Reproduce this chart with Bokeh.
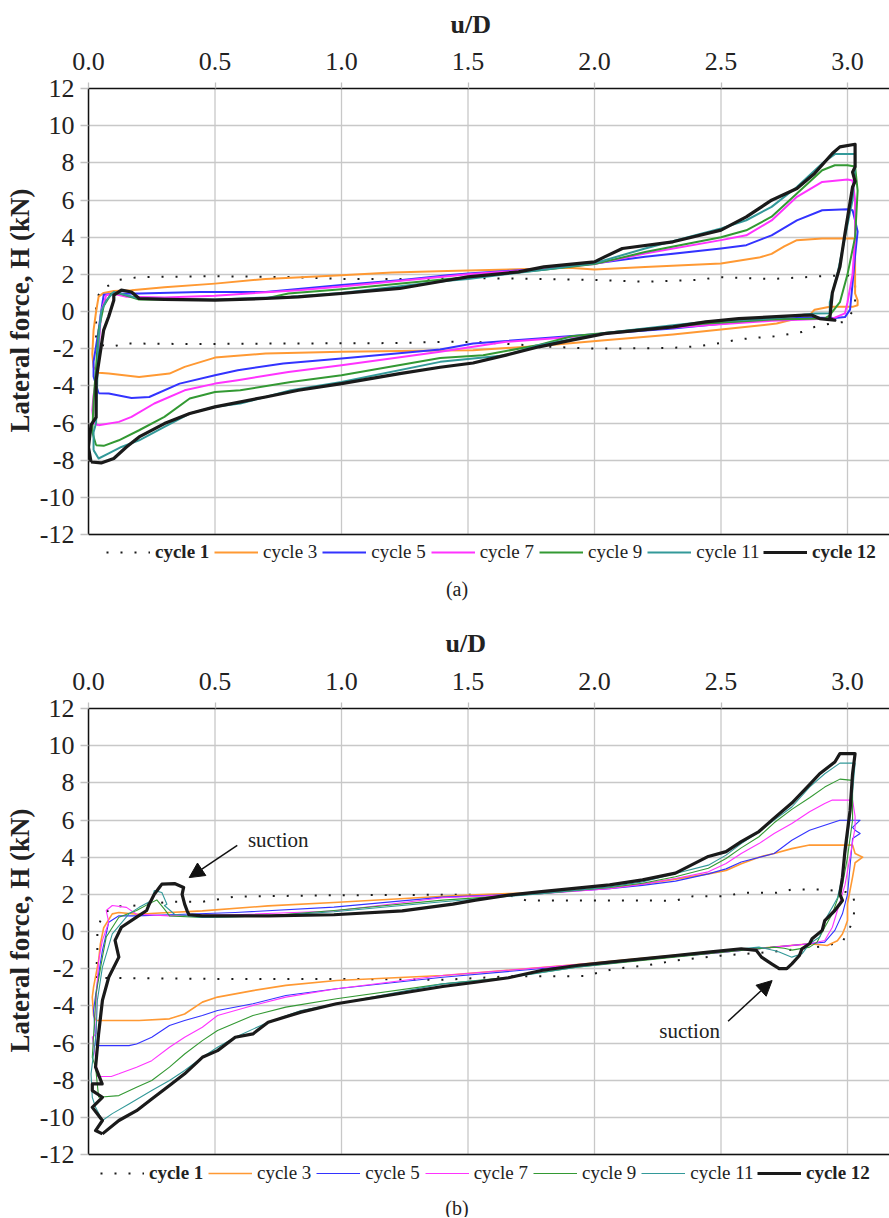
from bokeh.plotting import figure
from bokeh.models import (FixedTicker, Legend, LegendItem, Label, Span,
                          Arrow, NormalHead, Title)
from bokeh.layouts import column
from bokeh.embed import file_html
from bokeh.resources import INLINE

# ---------------- shared axis data ----------------
X_TICKS = [0.0, 0.5, 1.0, 1.5, 2.0, 2.5, 3.0]
X_TICK_LABELS = ["0.0", "0.5", "1.0", "1.5", "2.0", "2.5", "3.0"]
Y_TICKS = [-12, -10, -8, -6, -4, -2, 0, 2, 4, 6, 8, 10, 12]
Y_TICK_LABELS = ["-12", "-10", "-8", "-6", "-4", "-2", "0", "2", "4", "6", "8", "10", "12"]
CYCLES = ["cycle 1", "cycle 3", "cycle 5", "cycle 7", "cycle 9", "cycle 11", "cycle 12"]
COLORS = ["#1a1a1a", "#FF9933", "#3333FF", "#FF33FF", "#339933", "#339999", "#1a1a1a"]
X_TITLE = "u/D"
Y_TITLE = "Lateral force, H (kN)"
CAPTIONS = ["(a)", "(b)"]

# ---------------- panel (a) ----------------
A1_U = [0.03, 0.03, 0.04, 0.05, 0.08, 0.12, 0.2, 0.5, 0.8, 1.0, 1.3, 1.5, 1.8, 2.0, 2.2, 2.4, 2.5, 2.7, 2.9, 3.0,
        3.03, 3.03, 2.99, 2.94, 2.87, 2.82, 2.72, 2.65, 2.57, 2.5, 2.41, 2.3, 2.0, 1.83, 1.55, 1.42, 1.2, 0.8, 0.4,
        0.15, 0.09, 0.05, 0.03]
A1_H = [-1.4, 0.25, 0.9, 1.2, 1.4, 1.7, 1.85, 1.9, 1.85, 1.75, 1.75, 1.8, 1.75, 1.7, 1.6, 1.7, 1.85, 1.75, 1.9, 1.95,
        1.6, 0.2, -0.56, -0.63, -0.83, -1.1, -1.33, -1.4, -1.5, -1.69, -1.87, -1.96, -2.0, -1.9, -1.65, -1.63, -1.7,
        -1.72, -1.75, -1.72, -1.9, -1.8, -1.4]

A3_U = [0.04, 0.02, 0.015, 0.02, 0.03, 0.04, 0.06, 0.1, 0.17, 0.3, 0.5, 0.7, 1.0, 1.2, 1.42, 1.5, 1.78, 1.9, 2.0,
        2.2, 2.5, 2.65, 2.7, 2.75, 2.8, 2.9, 3.0, 3.03, 3.03, 3.03, 3.04, 3.04, 3.02, 2.93, 2.87, 2.85, 2.72, 2.5,
        2.31, 2.04, 1.78, 1.52, 1.39, 1.0, 0.7, 0.5, 0.38, 0.32, 0.2, 0.08, 0.04]
A3_H = [-3.3, -3.0, -2.3, -1.0, 0.0, 0.8, 1.0, 1.1, 1.15, 1.3, 1.5, 1.75, 1.95, 2.1, 2.18, 2.2, 2.3, 2.35, 2.26,
        2.4, 2.58, 2.9, 3.1, 3.5, 3.84, 3.93, 3.93, 3.93, 2.0, 0.97, 0.6, 0.34, 0.25, 0.25, 0.1, -0.2, -0.65, -0.97,
        -1.24, -1.55, -1.85, -2.08, -2.1, -2.17, -2.26, -2.48, -2.98, -3.34, -3.52, -3.34, -3.3]

A5_U = [0.04, 0.02, 0.02, 0.04, 0.05, 0.06, 0.1, 0.2, 0.44, 0.7, 1.0, 1.23, 1.42, 1.5, 1.8, 2.0, 2.2, 2.5, 2.6,
        2.7, 2.8, 2.9, 3.0, 3.02, 3.03, 3.04, 3.03, 3.02, 3.01, 2.99, 2.95, 2.83, 2.57, 2.31, 2.04, 1.78, 1.52, 1.39,
        1.0, 0.77, 0.59, 0.5, 0.36, 0.24, 0.17, 0.08, 0.04]
A5_H = [-4.4, -3.5, -2.7, -1.0, 0.0, 0.9, 0.95, 0.97, 1.05, 1.05, 1.42, 1.68, 1.95, 2.05, 2.3, 2.58, 2.94, 3.39,
        3.57, 4.1, 4.9, 5.45, 5.5, 5.45, 4.9, 4.3, 3.0, 1.5, 0.1, -0.3, -0.35, -0.32, -0.56, -0.92, -1.19, -1.45,
        -1.72, -2.05, -2.53, -2.8, -3.16, -3.43, -3.88, -4.6, -4.65, -4.41, -4.4]

A7_U = [0.04, 0.02, 0.015, 0.02, 0.03, 0.04, 0.05, 0.07, 0.1, 0.15, 0.3, 0.5, 0.83, 1.0, 1.42, 1.5, 1.8, 2.0, 2.2,
        2.5, 2.6, 2.7, 2.8, 2.9, 3.0, 3.02, 3.03, 3.03, 3.02, 3.0, 2.99, 2.94, 2.7, 2.44, 2.18, 1.91, 1.65, 1.39,
        1.0, 0.79, 0.59, 0.5, 0.38, 0.26, 0.17, 0.12, 0.04]
A7_H = [-6.12, -6.0, -5.3, -4.5, -3.7, -2.0, 0.0, 0.88, 0.95, 0.79, 0.75, 0.85, 1.15, 1.35, 1.9, 2.0, 2.3, 2.55,
        3.12, 3.84, 4.1, 4.9, 6.17, 6.97, 7.1, 7.05, 6.0, 4.0, 2.0, 0.5, -0.1, -0.38, -0.5, -0.74, -1.0, -1.37,
        -1.63, -2.17, -2.89, -3.25, -3.7, -3.88, -4.24, -4.95, -5.67, -5.94, -6.12]

A9_U = [0.03, 0.015, 0.02, 0.03, 0.04, 0.06, 0.09, 0.12, 0.2, 0.5, 0.7, 0.79, 1.0, 1.42, 1.5, 1.8, 2.0, 2.2, 2.5,
        2.6, 2.7, 2.8, 2.9, 2.95, 3.0, 3.03, 3.04, 3.03, 3.0, 2.97, 2.93, 2.91, 2.7, 2.44, 2.18, 1.91, 1.78, 1.56,
        1.39, 1.0, 0.8, 0.6, 0.5, 0.4, 0.3, 0.2, 0.12, 0.06, 0.03]
A9_H = [-7.2, -6.5, -4.8, -3.0, -1.0, 0.3, 0.97, 0.98, 0.65, 0.62, 0.7, 0.97, 1.2, 1.75, 1.85, 2.25, 2.55, 3.2,
        4.0, 4.37, 5.1, 6.35, 7.6, 7.87, 7.87, 7.8, 6.5, 4.0, 2.0, 0.5, -0.2, -0.38, -0.43, -0.65, -0.97, -1.33,
        -1.8, -2.35, -2.5, -3.43, -3.79, -4.24, -4.33, -4.68, -5.67, -6.39, -6.93, -7.23, -7.2]

A11_U = [0.02, 0.02, 0.03, 0.035, 0.04, 0.05, 0.07, 0.1, 0.13, 0.2, 0.5, 0.8, 1.0, 1.42, 1.5, 1.8, 2.0, 2.2, 2.5,
         2.6, 2.7, 2.8, 2.9, 2.95, 3.03, 3.03, 3.02, 2.99, 2.96, 2.93, 2.93, 2.87, 2.7, 2.44, 2.31, 2.04, 1.78,
         1.65, 1.39, 1.0, 0.8, 0.6, 0.5, 0.4, 0.3, 0.2, 0.13, 0.08, 0.04, 0.02]
A11_H = [-7.46, -6.5, -6.0, -3.52, -1.5, 0.0, 0.6, 1.05, 0.95, 0.7, 0.65, 0.8, 1.0, 1.65, 1.75, 2.25, 2.6, 3.39,
         4.47, 4.91, 5.63, 6.7, 7.97, 8.47, 8.47, 7.8, 6.0, 4.0, 2.0, 0.5, -0.1, -0.11, -0.38, -0.55, -0.74, -1.15,
         -1.81, -2.35, -2.71, -3.79, -4.24, -4.95, -5.13, -5.49, -6.21, -6.93, -7.29, -7.64, -7.91, -7.46]

A12_U = [0.01, 0.0, 0.01, 0.03, 0.03, 0.05, 0.06, 0.08, 0.1, 0.1, 0.13, 0.17, 0.2, 0.3, 0.5, 0.7, 0.83, 1.0, 1.23,
         1.42, 1.5, 1.7, 1.8, 2.0, 2.04, 2.11, 2.31, 2.5, 2.6, 2.7, 2.8, 2.87, 2.94, 2.97, 3.03, 3.03, 3.02, 3.03,
         3.02, 2.99, 2.97, 2.94, 2.93, 2.95, 2.89, 2.86, 2.83, 2.7, 2.57, 2.44, 2.31, 2.18, 2.04, 1.91, 1.78, 1.65,
         1.52, 1.39, 1.23, 1.0, 0.83, 0.7, 0.5, 0.4, 0.3, 0.2, 0.15, 0.1, 0.05, 0.01]
A12_H = [-8.1, -7.3, -6.1, -5.7, -3.7, -1.9, -1.0, -0.27, 0.61, 0.88, 1.15, 1.05, 0.7, 0.65, 0.61, 0.7, 0.79, 0.97,
         1.24, 1.68, 1.86, 2.13, 2.4, 2.67, 2.94, 3.39, 3.75, 4.38, 5.09, 5.99, 6.62, 7.43, 8.5, 8.86, 9.0, 7.78, 7.5,
         7.0, 6.7, 4.2, 2.4, 1.0, -0.4, -0.47, -0.38, -0.2, -0.2, -0.29, -0.38, -0.56, -0.83, -1.0, -1.19, -1.54,
         -1.9, -2.35, -2.77, -3.0, -3.34, -3.88, -4.24, -4.6, -5.13, -5.49, -6.03, -6.75, -7.29, -7.91, -8.15, -8.1]

# ---------------- panel (b) ----------------
B1_U = [0.03, 0.035, 0.035, 0.055, 0.055, 0.11, 0.16, 0.32, 0.45, 0.58, 0.97, 1.44, 1.66, 1.73, 1.93, 2.32, 2.39,
        2.52, 2.58, 2.72, 2.78, 2.91, 3.02, 3.03, 3.02, 2.98, 2.9, 2.7, 2.5, 2.32, 2.2, 2.08, 1.96, 1.66, 1.4, 1.0,
        0.5, 0.1, 0.03]
B1_H = [-2.5, -1.0, 0.14, 0.86, 0.95, 1.36, 1.36, 1.6, 1.6, 1.88, 1.95, 1.98, 1.96, 1.67, 1.67, 1.66, 1.9, 1.9,
        2.08, 2.08, 2.26, 2.26, 2.08, 1.36, 0.5, -0.57, -0.8, -1.1, -1.3, -1.56, -1.84, -2.0, -2.4, -2.41, -2.6,
        -2.55, -2.55, -2.5, -2.5]

B3_U = [0.03, 0.02, 0.015, 0.02, 0.04, 0.047, 0.06, 0.094, 0.12, 0.19, 0.32, 0.45, 0.71, 0.97, 1.44, 1.53, 1.66,
        1.79, 1.93, 2.06, 2.19, 2.32, 2.45, 2.52, 2.58, 2.65, 2.71, 2.78, 2.85, 3.02, 3.03, 3.06, 3.03, 3.02, 3.0,
        3.0, 2.99, 2.98, 2.96, 2.92, 2.85, 2.71, 2.45, 1.93, 1.4, 0.98, 0.78, 0.65, 0.51, 0.45, 0.38, 0.32, 0.2,
        0.03]
B3_H = [-4.79, -4.52, -3.53, -2.99, -1.56, -0.67, 0.2, 0.95, 1.02, 0.93, 1.02, 1.11, 1.38, 1.56, 1.92, 1.97, 2.04,
        2.1, 2.22, 2.37, 2.55, 2.82, 3.1, 3.28, 3.65, 4.0, 4.2, 4.46, 4.65, 4.65, 4.2, 4.0, 3.7, 2.92, 1.5, 0.59,
        0.2, -0.13, -0.5, -0.75, -0.66, -0.84, -1.11, -1.78, -2.37, -2.64, -2.9, -3.18, -3.53, -3.8, -4.44, -4.7,
        -4.79, -4.79]

B5_U = [0.03, 0.02, 0.027, 0.04, 0.055, 0.07, 0.08, 0.12, 0.19, 0.32, 0.58, 0.97, 1.4, 1.79, 2.06, 2.19, 2.32,
        2.45, 2.52, 2.58, 2.71, 2.78, 2.85, 2.91, 2.97, 3.05, 3.02, 3.03, 3.05, 3.02, 3.01, 3.0, 2.98, 2.95, 2.91,
        2.85, 2.71, 2.45, 1.93, 1.4, 0.98, 0.78, 0.65, 0.51, 0.45, 0.38, 0.32, 0.25, 0.19, 0.16, 0.03]
B5_H = [-6.14, -4.25, -3.53, -2.28, -1.02, -0.13, 0.5, 0.85, 0.84, 0.9, 1.02, 1.31, 1.85, 2.06, 2.3, 2.48, 2.71,
        3.1, 3.37, 3.74, 4.2, 4.91, 5.45, 5.72, 5.99, 5.99, 5.6, 5.45, 5.27, 5.0, 3.5, 2.0, 0.95, 0.06, -0.57,
        -0.66, -0.84, -1.2, -1.83, -2.46, -3.08, -3.44, -3.89, -4.25, -4.52, -4.79, -5.06, -5.69, -6.05, -6.14,
        -6.14]

B7_U = [0.035, 0.03, 0.015, 0.03, 0.03, 0.04, 0.055, 0.08, 0.07, 0.094, 0.15, 0.19, 0.32, 0.58, 0.97, 1.4, 1.79,
        2.06, 2.19, 2.32, 2.45, 2.52, 2.58, 2.65, 2.71, 2.78, 2.85, 2.91, 2.94, 3.02, 3.03, 3.03, 3.01, 2.99, 2.96,
        2.94, 2.91, 2.85, 2.71, 2.45, 1.93, 1.4, 0.98, 0.78, 0.65, 0.51, 0.45, 0.38, 0.32, 0.25, 0.19, 0.12, 0.09,
        0.035]
B7_H = [-7.8, -6.95, -5.69, -5.5, -3.71, -1.56, -0.48, 0.5, 1.13, 1.4, 1.3, 0.93, 0.84, 0.9, 1.1, 1.82, 2.04, 2.3,
        2.55, 2.85, 3.21, 3.66, 4.2, 4.73, 5.27, 5.81, 6.44, 6.89, 7.07, 7.07, 6.2, 5.6, 4.0, 2.5, 1.13, 0.23,
        -0.48, -0.66, -0.84, -1.2, -1.78, -2.37, -3.08, -3.53, -3.98, -4.52, -5.15, -5.69, -6.23, -6.95, -7.3,
        -7.66, -7.8, -7.8]

B9_U = [0.04, 0.028, 0.015, 0.03, 0.055, 0.07, 0.12, 0.19, 0.24, 0.27, 0.3, 0.32, 0.45, 0.71, 0.97, 1.4, 1.79,
        2.06, 2.19, 2.32, 2.45, 2.52, 2.58, 2.65, 2.71, 2.78, 2.85, 2.91, 2.97, 3.02, 3.02, 3.0, 2.98, 2.94, 2.91,
        2.88, 2.85, 2.78, 2.75, 2.71, 2.45, 2.19, 1.93, 1.66, 1.4, 0.98, 0.78, 0.65, 0.51, 0.45, 0.38, 0.32, 0.25,
        0.19, 0.12, 0.04]
B9_H = [-8.92, -7.3, -6.77, -3.35, -1.38, -0.3, 0.77, 1.13, 1.5, 1.7, 1.2, 0.84, 0.75, 0.84, 1.13, 1.69, 2.04,
        2.37, 2.6, 2.95, 3.4, 3.93, 4.5, 5.1, 5.85, 6.57, 7.2, 7.77, 8.2, 8.13, 6.0, 4.0, 2.5, 0.95, 0.23, -0.57,
        -0.84, -1.0, -0.9, -0.84, -1.2, -1.56, -1.92, -2.46, -2.82, -3.62, -4.07, -4.52, -5.33, -5.87, -6.59,
        -7.3, -8.02, -8.38, -8.83, -8.92]

B11_U = [0.055, 0.028, 0.015, 0.01, 0.03, 0.035, 0.055, 0.094, 0.16, 0.2, 0.25, 0.26, 0.29, 0.31, 0.3, 0.34, 0.45,
         0.71, 0.97, 1.4, 1.79, 2.06, 2.19, 2.32, 2.45, 2.52, 2.58, 2.65, 2.71, 2.78, 2.85, 2.91, 2.97, 3.03, 3.02,
         3.0, 2.98, 2.96, 2.94, 2.91, 2.89, 2.85, 2.82, 2.78, 2.73, 2.71, 2.65, 2.58, 2.45, 1.93, 1.66, 1.4, 0.98,
         0.84, 0.71, 0.58, 0.51, 0.45, 0.38, 0.32, 0.25, 0.16, 0.094, 0.055]
B11_H = [-10.17, -9.46, -8.92, -7.66, -5.5, -3.71, -1.92, -0.13, 0.95, 1.3, 1.67, 2.2, 2.1, 1.47, 1.4, 0.93, 0.75,
         0.84, 1.06, 1.6, 2.04, 2.4, 2.67, 3.12, 3.57, 4.11, 4.73, 5.36, 5.99, 6.7, 7.77, 8.49, 9.06, 9.06, 7.5,
         5.0, 3.0, 1.8, 1.31, 0.59, -0.3, -0.66, -1.2, -1.38, -1.1, -1.02, -0.84, -0.93, -1.11, -1.92, -2.49,
         -2.82, -3.89, -4.25, -4.88, -5.69, -6.23, -6.77, -7.48, -8.02, -8.56, -9.28, -9.8, -10.17]

B12_U = [0.055, 0.028, 0.055, 0.015, 0.055, 0.015, 0.015, 0.054, 0.028, 0.04, 0.055, 0.08, 0.12, 0.105, 0.13,
         0.19, 0.23, 0.24, 0.26, 0.28, 0.29, 0.34, 0.376, 0.37, 0.38, 0.39, 0.397, 0.45, 0.71, 0.97, 1.24, 1.44,
         1.53, 1.66, 1.79, 1.93, 2.06, 2.19, 2.32, 2.45, 2.52, 2.58, 2.65, 2.71, 2.78, 2.85, 2.89, 2.95, 2.97,
         3.03, 3.02, 3.01, 2.99, 2.98, 2.97, 2.98, 2.95, 2.91, 2.9, 2.86, 2.85, 2.82, 2.81, 2.78, 2.76, 2.73, 2.7,
         2.66, 2.64, 2.58, 2.45, 2.32, 2.19, 2.06, 1.93, 1.79, 1.66, 1.53, 1.4, 0.98, 0.84, 0.71, 0.65, 0.58, 0.51,
         0.45, 0.38, 0.32, 0.25, 0.19, 0.12, 0.055]
B12_H = [-10.89, -10.71, -10.17, -9.46, -8.92, -8.56, -8.2, -8.2, -7.3, -5.5, -3.71, -2.46, -1.38, -0.48, 0.23,
         0.77, 1.13, 1.47, 2.0, 2.37, 2.55, 2.58, 2.37, 2.0, 1.47, 1.11, 0.9, 0.84, 0.84, 0.9, 1.11, 1.47, 1.69,
         1.96, 2.15, 2.33, 2.51, 2.78, 3.14, 4.04, 4.3, 4.84, 5.38, 6.1, 6.91, 7.9, 8.49, 9.12, 9.57, 9.57, 8.49,
         6.5, 4.35, 2.92, 2.0, 1.67, 1.13, 0.59, 0.06, -0.39, -0.66, -0.93, -1.29, -1.74, -2.0, -2.0, -1.74, -1.38,
         -1.02, -0.93, -1.11, -1.29, -1.47, -1.65, -1.83, -2.1, -2.49, -2.73, -2.96, -3.89, -4.34, -4.88, -5.51,
         -5.69, -6.41, -6.77, -7.66, -8.29, -9.01, -9.64, -10.17, -10.89]

# annotations of panel (b): text anchor and arrow (start -> tip), data units
SUCTION_TEXT = "suction"
SUCTION_1 = dict(tx=0.75, ty=4.9, x0=0.588, y0=4.63, x1=0.398, y1=2.9)
SUCTION_2 = dict(tx=2.376, ty=-5.33, x0=2.528, y0=-4.83, x1=2.702, y1=-2.64)

SERIF = "Liberation Serif"
TXT = "#222222"
GRID = "#c8c8c8"
W = 889
LEFT = 88
PX_PER_KN = 446 / 24.0
PX_PER_UD = 253.0


def build_panel(curves, widths, height, top, title_off, title_standoff,
                legend_x, legend_y, caption, cap_x, cap_y):
    frame_w = W - LEFT
    frame_h = height - top
    x_end = frame_w / PX_PER_UD
    y_start = 12 - frame_h / PX_PER_KN
    p = figure(width=W, height=height, x_range=(0, x_end), y_range=(y_start, 12),
               x_axis_location="above", output_backend="svg", toolbar_location=None,
               min_border_top=top, min_border_left=LEFT, min_border_right=0,
               min_border_bottom=0)
    p.outline_line_color = None
    p.border_fill_color = "white"

    p.title = Title(text=X_TITLE, align="left", offset=title_off, standoff=title_standoff,
                    vertical_align="top",
                    text_font=SERIF, text_font_size="26px", text_font_style="bold",
                    text_color=TXT)

    # vertical grid lines limited to the -12..12 band; horizontal grid from the axis ticks
    p.xgrid.visible = False
    p.segment(x0=X_TICKS, y0=[Y_TICKS[0]] * len(X_TICKS), x1=X_TICKS, y1=[Y_TICKS[-1]] * len(X_TICKS),
              line_color=GRID, line_width=1.3, level="underlay")
    p.ygrid.ticker = FixedTicker(ticks=Y_TICKS)
    p.ygrid.grid_line_color = GRID
    p.ygrid.grid_line_width = 1.3

    xa = p.xaxis[0]
    xa.ticker = FixedTicker(ticks=X_TICKS)
    xa.major_label_overrides = {t: s for t, s in zip(X_TICKS, X_TICK_LABELS)}
    xa.axis_line_color = "#111111"
    xa.axis_line_width = 1.5
    xa.major_tick_line_color = "#c0c0c0"
    xa.major_tick_line_width = 1.3
    xa.major_tick_out = 6
    xa.major_tick_in = 0
    xa.minor_tick_line_color = None
    xa.major_label_standoff = 13
    xa.major_label_text_font = SERIF
    xa.major_label_text_font_size = "26px"
    xa.major_label_text_color = TXT

    ya = p.yaxis[0]
    ya.ticker = FixedTicker(ticks=Y_TICKS)
    ya.bounds = (Y_TICKS[0], Y_TICKS[-1])
    ya.major_label_overrides = {t: s for t, s in zip(Y_TICKS, Y_TICK_LABELS)}
    ya.axis_line_color = "#111111"
    ya.axis_line_width = 1.5
    ya.major_tick_line_color = "#c0c0c0"
    ya.major_tick_line_width = 1.3
    ya.major_tick_out = 8
    ya.major_tick_in = 0
    ya.minor_tick_line_color = None
    ya.major_label_standoff = 6
    ya.major_label_text_font = SERIF
    ya.major_label_text_font_size = "26px"
    ya.major_label_text_color = TXT

    # y title along the -12..12 band (top end of the text 100px below the frame top)
    p.add_layout(Title(text=Y_TITLE, align="right", offset=100, standoff=4,
                       text_font=SERIF, text_font_size="27px", text_font_style="bold",
                       text_color=TXT), "left")

    p.add_layout(Span(location=Y_TICKS[0], dimension="width", line_color="#111111", line_width=1.5))

    rs = []
    for i, (u, h) in enumerate(curves):
        kw = dict(line_color=COLORS[i], line_width=widths[i], line_join="round")
        if i == 0:
            kw["line_dash"] = "2 12"
        rs.append(p.line(u, h, **kw))

    common = dict(orientation="horizontal", padding=0, margin=0, spacing=5,
                  label_standoff=5, glyph_width=44, glyph_height=20, label_height=20,
                  background_fill_alpha=0, border_line_alpha=0,
                  label_text_font=SERIF, label_text_font_size="19px", label_text_color=TXT)
    leg1 = Legend(items=[LegendItem(label=CYCLES[0], renderers=[rs[0]])],
                  location=(legend_x[0], legend_y), label_text_font_style="bold", **common)
    leg2 = Legend(items=[LegendItem(label=CYCLES[k], renderers=[rs[k]]) for k in range(1, 6)],
                  location=(legend_x[1], legend_y), **common)
    leg3 = Legend(items=[LegendItem(label=CYCLES[6], renderers=[rs[6]])],
                  location=(legend_x[2], legend_y), label_text_font_style="bold", **common)
    for lg in (leg1, leg2, leg3):
        p.add_layout(lg)

    p.add_layout(Label(x=cap_x, y=cap_y, x_units="screen", y_units="screen", text=caption,
                       text_font=SERIF, text_font_size="20px", text_color=TXT,
                       text_align="center", text_baseline="middle"))
    return p


curves_a = [(A1_U, A1_H), (A3_U, A3_H), (A5_U, A5_H), (A7_U, A7_H), (A9_U, A9_H), (A11_U, A11_H), (A12_U, A12_H)]
curves_b = [(B1_U, B1_H), (B3_U, B3_H), (B5_U, B5_H), (B7_U, B7_H), (B9_U, B9_H), (B11_U, B11_H), (B12_U, B12_H)]
WIDTHS_A = [2, 2, 2, 2, 2, 2, 3.2]
WIDTHS_B = [2, 1.6, 1.1, 1.1, 1.1, 1.1, 3.2]

pa = build_panel(curves_a, WIDTHS_A, 618, 88, 362, 17, (18, 126, 675), 55, CAPTIONS[0], 368.5, 30)
pb = build_panel(curves_b, WIDTHS_B, 599, 90, 357, 19, (12, 120, 669), 33, CAPTIONS[1], 368.5, 10)
for n in (SUCTION_1, SUCTION_2):
    pb.add_layout(Label(x=n["tx"], y=n["ty"], text=SUCTION_TEXT, text_font=SERIF,
                        text_font_size="21px", text_color=TXT,
                        text_align="center", text_baseline="middle"))
    pb.add_layout(Arrow(end=NormalHead(size=15, fill_color="#111111", line_color="#111111"),
                        x_start=n["x0"], y_start=n["y0"], x_end=n["x1"], y_end=n["y1"],
                        line_color="#111111", line_width=1.5))

layout = column(pa, pb, spacing=0)
open("out.html", "w").write(file_html(layout, INLINE))
